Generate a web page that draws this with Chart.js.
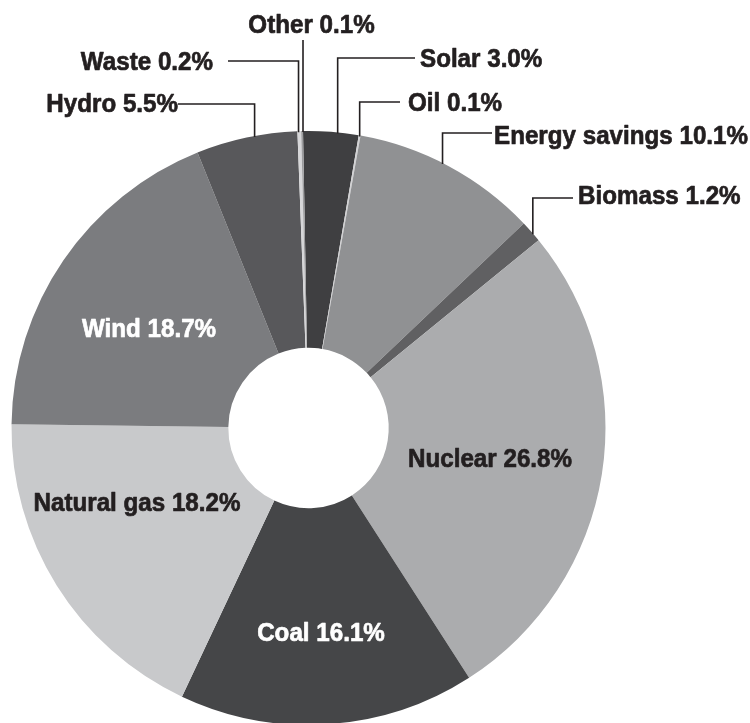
<!DOCTYPE html>
<html><head><meta charset="utf-8">
<script src="https://cdn.jsdelivr.net/npm/chart.js@4.4.1/dist/chart.umd.min.js"></script>
<style>
html,body{margin:0;padding:0;background:#fff;overflow:hidden;}
#wrap{position:relative;width:750px;height:730px;}
</style></head><body>
<div id="wrap"><canvas id="c"></canvas></div>
<script>
// ---- data ----
const categories = ['Solar','Oil','Energy savings','Biomass','Nuclear','Coal','Natural gas','Wind','Hydro','Waste','Other'];
const shares = [3.0, 0.1, 10.1, 1.2, 26.8, 16.1, 18.2, 18.7, 5.5, 0.2, 0.1];
const sliceColors = ['#3f3f41','#d2d2d4','#909193','#606062','#abacae','#454648','#c8c9cb','#7b7c7f','#58585b','#d6d6d8','#9c9c9e'];

// ---- label layout (annotation positions only) ----
const insideLabels = [
  {i:4, x:490, y:457.5, color:'#231f20'},
  {i:5, x:321, y:632,   color:'#ffffff'},
  {i:6, x:137, y:501.5, color:'#231f20'},
  {i:7, x:149, y:328,   color:'#ffffff'}
];
const outsideLabels = [
  {i:0, frac:0.62, elbowY:58,  lineEndX:415, textX:420,   textY:58,  align:'left'},
  {i:1, frac:0.5,  elbowY:102, lineEndX:400, textX:408,   textY:102, align:'left'},
  {i:2, frac:0.46, elbowY:133, lineEndX:492, textX:494,   textY:135, align:'left'},
  {i:3, frac:0.6,  elbowY:198, lineEndX:573, textX:578,   textY:195, align:'left'},
  {i:8, frac:0.58, elbowY:104, lineEndX:178, textX:178,   textY:103, align:'right'},
  {i:9, frac:0.3,  elbowY:61,  lineEndX:228, textX:213,   textY:61,  align:'right'},
  {i:10,frac:1.0,  elbowY:40,  lineEndX:null,textX:311.5, textY:24,  align:'center'}
];

const SX = 0.93;
const FONT = 'bold 26px "Liberation Sans", Arial, sans-serif';
const INK = '#231f20';

function labelText(i){ return categories[i] + ' ' + shares[i].toFixed(1) + '%'; }

function drawText(ctx, str, x, y, align, color){
  ctx.save();
  ctx.font = FONT;
  const w = ctx.measureText(str).width * SX;
  const left = align === 'left' ? x : (align === 'right' ? x - w : x - w / 2);
  ctx.translate(left, y + 9.3);
  ctx.scale(SX, 1);
  ctx.textAlign = 'left';
  ctx.textBaseline = 'alphabetic';
  ctx.fillStyle = color;
  ctx.strokeStyle = color;
  ctx.lineWidth = 0.7;
  ctx.lineJoin = 'round';
  ctx.fillText(str, 0, 0);
  ctx.strokeText(str, 0, 0);
  ctx.restore();
}

const labelPlugin = {
  id: 'pieLabels',
  afterDatasetsDraw(chart){
    const ctx = chart.ctx;
    const meta = chart.getDatasetMeta(0);
    insideLabels.forEach(l => drawText(ctx, labelText(l.i), l.x, l.y, 'center', l.color));
    ctx.save();
    ctx.strokeStyle = INK;
    ctx.lineWidth = 1.6;
    outsideLabels.forEach(l => {
      const arc = meta.data[l.i];
      const a = arc.startAngle + (arc.endAngle - arc.startAngle) * l.frac;
      const ax = arc.x + arc.outerRadius * Math.cos(a);
      const ay = arc.y + arc.outerRadius * Math.sin(a);
      ctx.beginPath();
      ctx.moveTo(ax, ay + 1);
      ctx.lineTo(ax, l.elbowY);
      if (l.lineEndX !== null) ctx.lineTo(l.lineEndX, l.elbowY);
      ctx.stroke();
    });
    ctx.restore();
    outsideLabels.forEach(l => drawText(ctx, labelText(l.i), l.textX, l.textY, l.align, INK));
  }
};

new Chart(document.getElementById('c'), {
  type: 'doughnut',
  data: {
    labels: categories,
    datasets: [{
      data: shares,
      backgroundColor: sliceColors,
      borderWidth: 0,
      hoverOffset: 0
    }]
  },
  options: {
    responsive: true,
    maintainAspectRatio: false,
    animation: false,
    events: [],
    rotation: -1.06,
    cutout: '27%',
    layout: {padding: {left: 11, right: 144, top: 131, bottom: 5}},
    plugins: {legend: {display: false}, tooltip: {enabled: false}}
  },
  plugins: [labelPlugin]
});
</script>
</body></html>
